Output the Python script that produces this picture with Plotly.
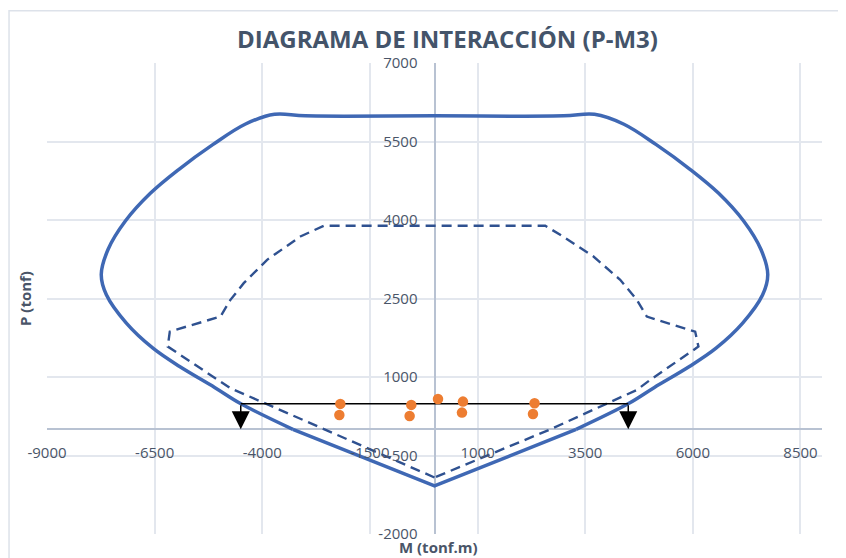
import plotly.graph_objects as go

# Nominal interaction curve (Mn, Pn) in tonf.m / tonf, starting at the pure-tension vertex
nom_M = [0, -3290, -4507, -5107, -5920, -6539, -7157, -7621, -7740, -7580, -7180,
         -6600, -5950, -5150, -4400, -3715, -3000, 0, 3000, 3715, 4400, 5150,
         5950, 6600, 7180, 7580, 7740, 7621, 7157, 6539, 5920, 5107, 4507, 3290, 0]
nom_P = [-1082, 0, 493, 801, 1200, 1550, 2029, 2570, 2960, 3440, 3980,
         4510, 4960, 5440, 5830, 6020, 5990, 5990, 5990, 6020, 5830, 5440,
         4960, 4510, 3980, 3440, 2960, 2570, 2029, 1550, 1200, 801, 493, 0, -1082]

# Design curve (phi*Mn, phi*Pn)
dis_M = [0, -2550, -4740, -6195, -6148, -4972, -4740, -4431, -3888, -3115, -2574,
         0, 2572, 2920, 3693, 4313, 4700, 4932, 5164, 6054, 6130, 5009, 4700, 2690, 0]
dis_P = [-920, 0, 786, 1581, 1868, 2155, 2474, 2793, 3239, 3685, 3889,
         3889, 3889, 3717, 3302, 2857, 2474, 2155, 2092, 1868, 1581, 945, 753, 0, -920]

# Load combinations (Mu, Pu)
load_M = [-2187, -2210, -539, -578, 81, 661, 638, 2324, 2287]
load_P = [486, 275, 467, 256, 581, 530, 320, 499, 294]

# Horizontal reference load with arrows
ref_M = [-4500, 4500]
ref_P = [490, 490]

x_ticks = [-9000, -6500, -4000, -1500, 1000, 3500, 6000, 8500]
y_ticks = [-2000, -500, 1000, 2500, 4000, 5500, 7000]

fig = go.Figure()

# smooth upper part of the nominal curve
fig.add_trace(go.Scatter(
    x=nom_M[1:-1], y=nom_P[1:-1], mode="lines",
    line=dict(color="#3F68B4", width=3.5, shape="spline", smoothing=1.0),
    showlegend=False, hoverinfo="skip"
))
# straight tension branches meeting at the vertex
fig.add_trace(go.Scatter(
    x=[nom_M[1], nom_M[0], nom_M[-2]], y=[nom_P[1], nom_P[0], nom_P[-2]], mode="lines",
    line=dict(color="#3F68B4", width=3.5),
    showlegend=False, hoverinfo="skip"
))
fig.add_trace(go.Scatter(
    x=dis_M, y=dis_P, mode="lines",
    line=dict(color="#2F5190", width=2.4, dash="10px,6px"),
    showlegend=False, hoverinfo="skip"
))
fig.add_trace(go.Scatter(
    x=ref_M, y=ref_P, mode="lines",
    line=dict(color="#000000", width=1.6),
    showlegend=False, hoverinfo="skip"
))
fig.add_trace(go.Scatter(
    x=load_M, y=load_P, mode="markers",
    marker=dict(color="#ED7D31", size=10.5),
    showlegend=False, hoverinfo="skip"
))

for m, p in zip(ref_M, ref_P):
    fig.add_annotation(
        x=m, y=0, ax=m, ay=p, xref="x", yref="y", axref="x", ayref="y",
        text="", showarrow=True, arrowhead=2, arrowsize=2.4, arrowwidth=1.5,
        arrowcolor="#000000"
    )

txt = "#4A5568"
axis_common = dict(
    showgrid=True, gridcolor="#E3E7EE", gridwidth=2,
    zeroline=True, zerolinecolor="#B8C2D2", zerolinewidth=2,
    showline=False, anchor="free",
    ticks="outside", tickcolor="rgba(0,0,0,0)",
    tickfont=dict(family="Open Sans", size=15, color=txt),
)

# page body has an 8px margin, so the figure is 8px smaller and shifted
fig.update_layout(
    width=838, height=550,
    margin=dict(l=39, r=24, t=55, b=24),
    paper_bgcolor="white", plot_bgcolor="white",
    xaxis=dict(range=[-9000, 9000], tickvals=x_ticks,
               ticktext=[str(v) for v in x_ticks], ticklen=10,
               position=2000 / 9000, **axis_common),
    yaxis=dict(range=[-2000, 7000], tickvals=y_ticks,
               ticktext=[str(v) for v in y_ticks], ticklen=14,
               position=0.5, **axis_common),
    shapes=[dict(type="rect", xref="paper", yref="paper",
                 x0=-0.049, x1=1.2, y0=-0.2, y1=1.111,
                 line=dict(color="#DDE2EA", width=1.5), layer="below")],
)

fig.add_annotation(
    text="<b>DIAGRAMA DE INTERACCIÓN (P-M3)</b>", xref="paper", yref="paper",
    x=0.5174, y=1.053, showarrow=False, xanchor="center", yanchor="middle",
    font=dict(family="Open Sans", size=24, color="#44546A")
)
fig.add_annotation(
    text="<b>M (tonf.m)</b>", xref="paper", yref="paper",
    x=0.505, y=-0.027, showarrow=False, xanchor="center", yanchor="middle",
    font=dict(family="Open Sans", size=15, color=txt)
)
fig.add_annotation(
    text="<b>P (tonf)</b>", xref="paper", yref="paper", textangle=-90,
    x=-0.0284, y=0.501, showarrow=False, xanchor="center", yanchor="middle",
    font=dict(family="Open Sans", size=15, color=txt)
)

fig.write_html("out.html")
